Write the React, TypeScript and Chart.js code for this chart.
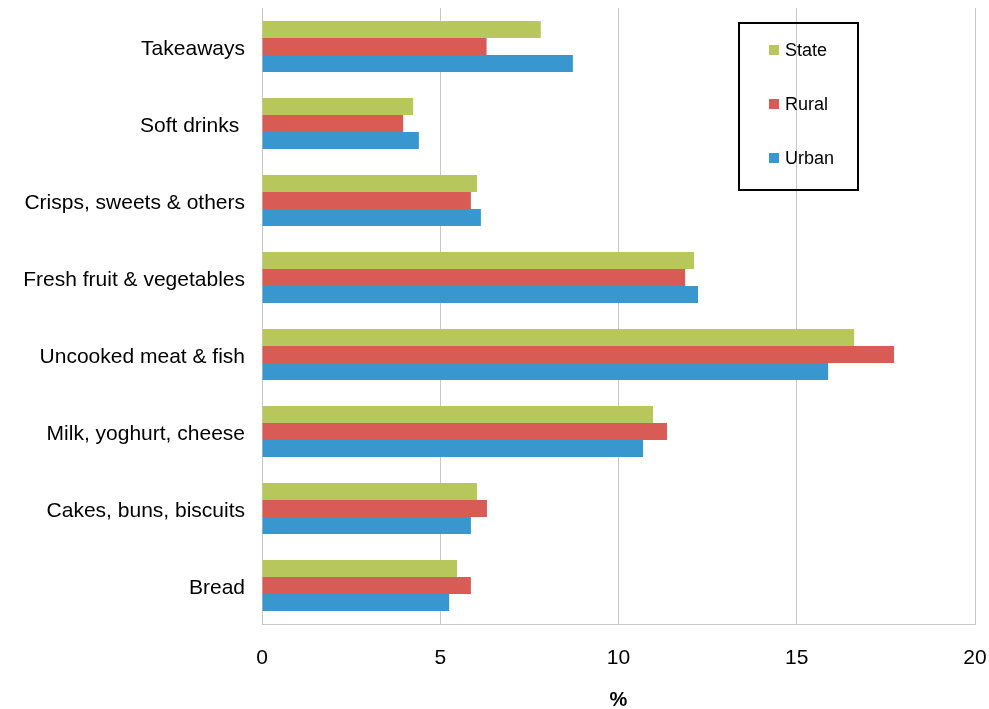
import React, { useEffect, useRef } from "react";
import { Chart, registerables } from "chart.js";

Chart.register(...registerables);

const categories = [
  "Takeaways",
  "Soft drinks ",
  "Crisps, sweets & others",
  "Fresh fruit & vegetables",
  "Uncooked meat & fish",
  "Milk, yoghurt, cheese",
  "Cakes, buns, biscuits",
  "Bread",
];
const seriesNames = ["State", "Rural", "Urban"];
const stateValues = [7.82, 4.24, 6.03, 12.12, 16.61, 10.97, 6.03, 5.47];
const ruralValues = [6.3, 3.96, 5.86, 11.87, 17.73, 11.36, 6.31, 5.86];
const urbanValues = [8.72, 4.4, 6.14, 12.23, 15.88, 10.69, 5.86, 5.25];
const seriesColors = ["#b8c75c", "#d95b55", "#3897cf"];
const xTicks = [0, 5, 10, 15, 20];
const xTitle = "%";

const FONT = "'Liberation Sans', Arial, sans-serif";

const legendBoxPlugin = {
  id: "legendBox",
  afterDraw(chart: any) {
    const ctx = chart.ctx;
    ctx.save();
    ctx.lineWidth = 2;
    ctx.strokeStyle = "#000";
    ctx.strokeRect(739, 23, 119, 167);
    ctx.font = `18px ${FONT}`;
    ctx.textBaseline = "middle";
    ctx.textAlign = "left";
    const ys = [50, 104, 158];
    chart.data.datasets.forEach((ds: any, i: number) => {
      ctx.fillStyle = ds.backgroundColor;
      ctx.fillRect(769, ys[i] - 5, 10, 10);
      ctx.fillStyle = "#000";
      ctx.fillText(ds.label, 785, ys[i] + 1);
    });
    ctx.restore();
  },
};

export default function App() {
  const ref = useRef<HTMLCanvasElement | null>(null);
  useEffect(() => {
    if (!ref.current) return;
    const values = [stateValues, ruralValues, urbanValues];
    const chart = new Chart(ref.current, {
      type: "bar",
      data: {
        labels: categories,
        datasets: seriesNames.map((name, i) => ({
          label: name,
          data: values[i],
          backgroundColor: seriesColors[i],
          borderWidth: 0,
          categoryPercentage: 0.66,
          barPercentage: 1,
        })),
      },
      options: {
        indexAxis: "y",
        animation: false,
        responsive: false,
        maintainAspectRatio: false,
        layout: { padding: { top: 8, right: 14, left: 0, bottom: 0 } },
        plugins: {
          legend: { display: false },
          tooltip: { enabled: false },
          title: { display: false },
        },
        scales: {
          x: {
            min: 0,
            max: 20,
            afterBuildTicks: (scale: any) => {
              scale.ticks = xTicks.map((v) => ({ value: v }));
            },
            afterFit: (scale: any) => {
              scale.height = 85;
              scale.paddingLeft = 0;
              scale.paddingRight = 0;
            },
            grid: {
              color: "#c8c8c8",
              lineWidth: 1,
              drawTicks: false,
            },
            border: { display: true, color: "#c8c8c8" },
            ticks: {
              color: "#000",
              font: { family: FONT, size: 21 },
              padding: 22,
            },
            title: {
              display: true,
              text: xTitle,
              color: "#000",
              font: { family: FONT, size: 20, weight: "bold", lineHeight: 1 },
              padding: { top: 0, bottom: -1 },
            },
          },
          y: {
            afterFit: (scale: any) => {
              scale.width = 262;
              scale.paddingTop = 0;
              scale.paddingBottom = 0;
            },
            grid: { display: false, drawTicks: false },
            border: { display: true, color: "#c8c8c8" },
            ticks: {
              color: "#000",
              font: { family: FONT, size: 21 },
              padding: 17,
              labelOffset: 3,
            },
          },
        },
      },
      plugins: [legendBoxPlugin],
    } as any);
    return () => chart.destroy();
  }, []);
  return (
    <div style={{ position: "fixed", left: 0, top: 0, width: 989, height: 709, background: "#fff" }}>
      <canvas ref={ref} width={989} height={709} style={{ display: "block" }} />
    </div>
  );
}
